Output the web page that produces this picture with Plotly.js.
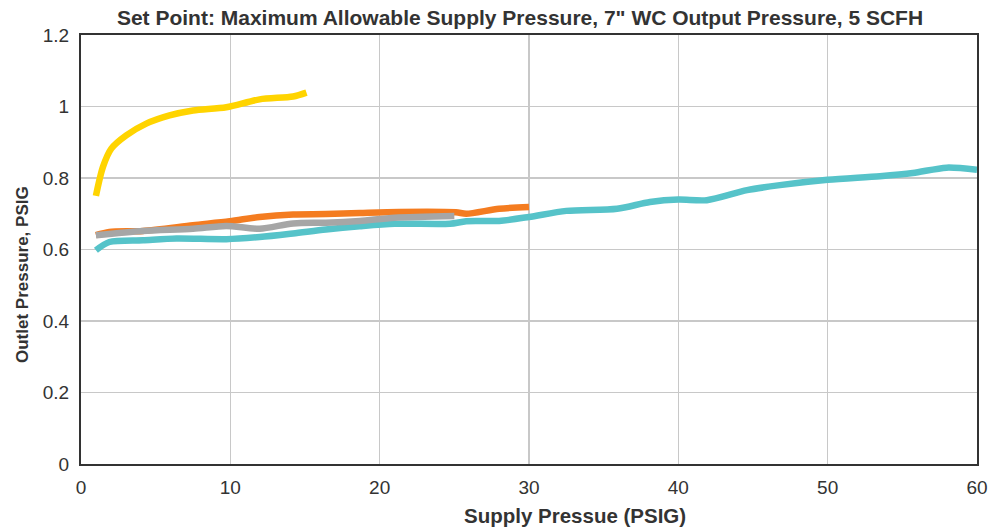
<!DOCTYPE html>
<html><head><meta charset="utf-8">
<script src="https://cdn.plot.ly/plotly-3.0.1.min.js"></script>
<style>html,body{margin:0;padding:0;background:#fff}#chart{width:993px;height:531px}</style>
</head><body><div id="chart"></div>
<script>
const yellowX = [1.0, 1.47, 2.03, 3.03, 4.37, 5.93, 7.5, 9.73, 11.96, 14.2, 15.1];
const yellowY = [0.75, 0.831, 0.882, 0.919, 0.952, 0.975, 0.989, 0.998, 1.020, 1.028, 1.039];
const orangeX = [1.0, 1.9, 4.15, 7.5, 9.95, 11.96, 14.2, 16.4, 18.66, 21.3, 25.1, 25.8, 28.0, 30.0];
const orangeY = [0.640, 0.649, 0.652, 0.668, 0.679, 0.691, 0.698, 0.699, 0.702, 0.705, 0.704, 0.700, 0.714, 0.719];
const grayX = [1.0, 4.15, 7.5, 9.73, 11.96, 14.2, 16.4, 18.66, 21.0, 25.0];
const grayY = [0.640, 0.652, 0.658, 0.666, 0.658, 0.673, 0.675, 0.680, 0.689, 0.694];
const tealX = [1.0, 1.9, 4.15, 6.4, 9.73, 11.96, 14.2, 16.4, 18.66, 21.0, 24.7, 25.8, 28.0, 30.0, 32.5, 35.9, 38.1, 40.0, 41.9, 44.6, 46.8, 50.0, 53.5, 55.7, 57.96, 60.0];
const tealY = [0.598, 0.621, 0.626, 0.631, 0.629, 0.635, 0.645, 0.656, 0.665, 0.672, 0.672, 0.679, 0.680, 0.691, 0.708, 0.714, 0.733, 0.740, 0.738, 0.766, 0.780, 0.795, 0.805, 0.814, 0.829, 0.823];

const mk = (x, y, c) => ({x, y, type: 'scatter', mode: 'lines', line: {color: c, width: 6.5, shape: 'spline', smoothing: 0.8}, hoverinfo: 'skip', showlegend: false});
const data = [
  mk(tealX, tealY, '#56C3C9'),
  mk(orangeX, orangeY, '#F47C20'),
  mk(grayX, grayY, '#A6A6A6'),
  mk(yellowX, yellowY, '#FFD400')
];

const font = 'Liberation Sans, Arial, sans-serif';
const layout = {
  width: 993, height: 531,
  margin: {l: 81, r: 16, t: 35, b: 67},
  paper_bgcolor: '#fff', plot_bgcolor: '#fff',
  font: {family: font, color: '#333', size: 19},
  title: {text: '<b>Set Point: Maximum Allowable Supply Pressure, 7" WC Output Pressure, 5 SCFH</b>', x: 520/993, xanchor: 'center', y: 1 - 17.5/531, yanchor: 'middle', font: {family: font, size: 21, color: '#333'}},
  xaxis: {range: [0, 60], dtick: 10, tick0: 0, showgrid: true, gridcolor: '#c8c8c8', gridwidth: 1.5, zeroline: false,
          showline: true, linecolor: '#333', linewidth: 2, mirror: true, ticks: '', ticklen: 0, ticklabelstandoff: 5,
          tickfont: {size: 19, color: '#333'}},
  yaxis: {range: [0, 1.2], dtick: 0.2, tick0: 0, showgrid: true, gridcolor: '#c8c8c8', gridwidth: 1.5, zeroline: false,
          showline: true, linecolor: '#333', linewidth: 2, mirror: true, ticks: '', ticklen: 0, ticklabelstandoff: 6,
          tickfont: {size: 19, color: '#333'}, tickformat: '~g'},
  annotations: [
    {text: '<b>Supply Pressue (PSIG)</b>', xref: 'paper', yref: 'paper', x: (575 - 81) / 896, y: -(515 - 464) / 429,
     xanchor: 'center', yanchor: 'middle', showarrow: false, font: {size: 20.5, color: '#333'}},
    {text: '<b>Outlet Pressure, PSIG</b>', xref: 'paper', yref: 'paper', x: -(81 - 22) / 896, y: (464 - 275) / 429,
     xanchor: 'center', yanchor: 'middle', textangle: -90, showarrow: false, font: {size: 17, color: '#333'}}
  ]
};
Plotly.newPlot('chart', data, layout, {staticPlot: true, displayModeBar: false});
</script></body></html>
